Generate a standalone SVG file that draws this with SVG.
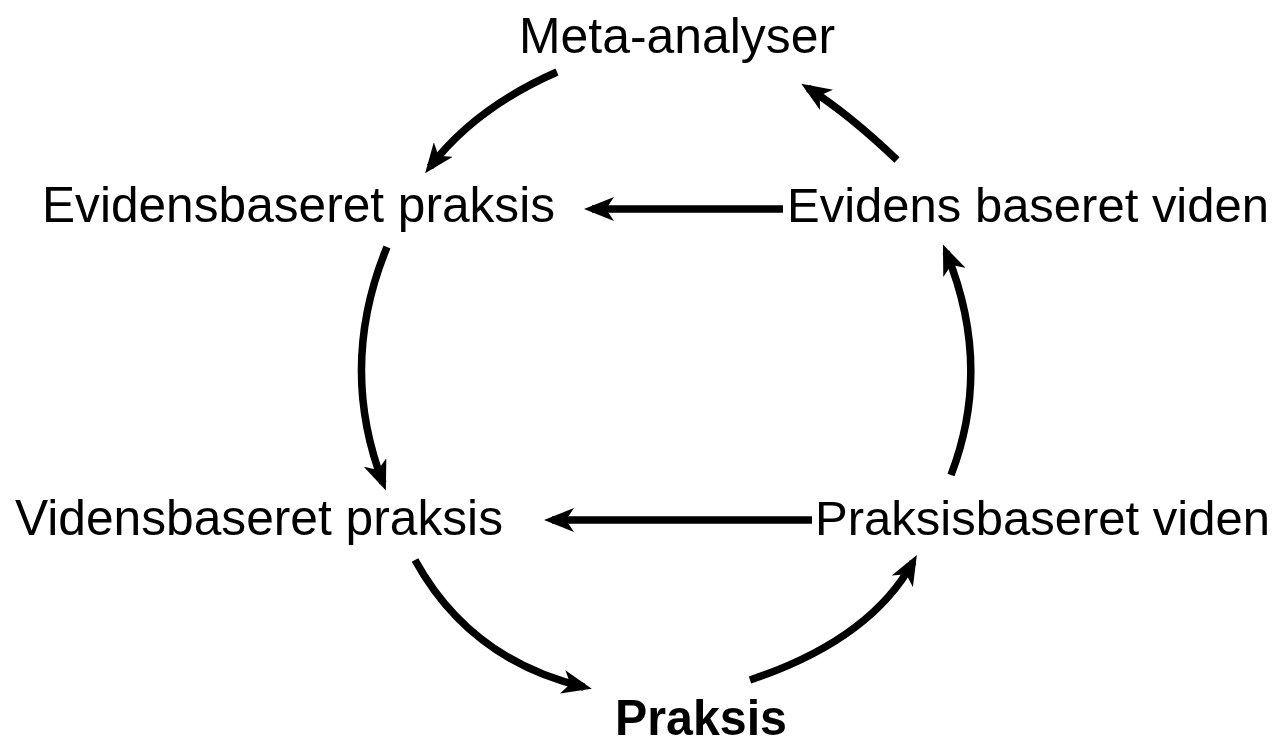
<svg xmlns="http://www.w3.org/2000/svg" width="1283" height="744" viewBox="0 0 1283 744">
  <style>
    .lbl { font-family: "Liberation Sans", Arial, sans-serif; font-size: 50px; fill: #000; }
    .r { font-size: 49px; }
    .bold { font-weight: bold; }
    .conn { fill: none; stroke: #000; stroke-width: 7.5; marker-end: url(#arrow); }
  </style>
  <defs>
    <marker id="arrow" markerUnits="userSpaceOnUse" markerWidth="30" markerHeight="24" viewBox="0 0 30 24" refX="22" refY="12" orient="auto">
      <path d="M30,12 L0,0 L8,12 L0,24 Z" fill="#000"/>
    </marker>
  </defs>
  <rect width="1283" height="744" fill="#fff"/>
  <g id="connectors">
    <path class="conn" d="M557,72 Q475,108 430,167"/>
    <path class="conn" d="M897,160 Q850,115 808,88"/>
    <path class="conn" d="M783,209 L592,209"/>
    <path class="conn" d="M387,247 Q338,366 383,483"/>
    <path class="conn" d="M951,475 Q993,366 946,252"/>
    <path class="conn" d="M812,520 L552,520"/>
    <path class="conn" d="M415,560 Q470,660 584,687"/>
    <path class="conn" d="M750,680 Q870,640 913,562"/>
  </g>
  <g id="node-meta"><text class="lbl" x="519" y="53" textLength="316" lengthAdjust="spacingAndGlyphs">Meta-analyser</text></g>
  <g id="node-evidensbaseret-praksis"><text class="lbl" x="42" y="222" textLength="513" lengthAdjust="spacingAndGlyphs">Evidensbaseret praksis</text></g>
  <g id="node-evidens-baseret-viden"><text class="lbl r" x="787" y="222" textLength="482" lengthAdjust="spacingAndGlyphs">Evidens baseret viden</text></g>
  <g id="node-vidensbaseret-praksis"><text class="lbl" x="15" y="535" textLength="488" lengthAdjust="spacingAndGlyphs">Vidensbaseret praksis</text></g>
  <g id="node-praksisbaseret-viden"><text class="lbl r" x="815" y="535" textLength="455" lengthAdjust="spacingAndGlyphs">Praksisbaseret viden</text></g>
  <g id="node-praksis"><text class="lbl bold" x="615" y="735" textLength="172" lengthAdjust="spacingAndGlyphs">Praksis</text></g>
</svg>
